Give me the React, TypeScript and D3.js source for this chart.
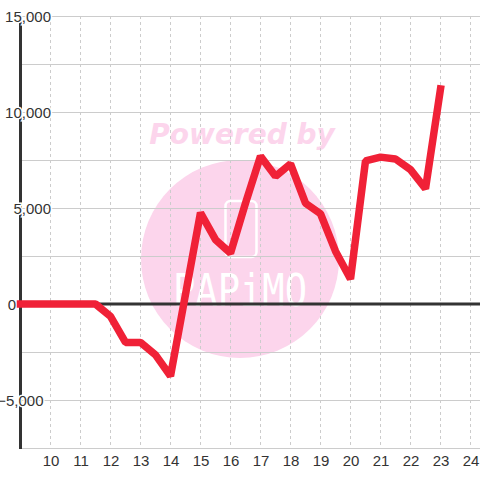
import React from "react";
import * as d3 from "d3";

const hours = [9,9.5,10,10.5,11,11.5,12,12.5,13,13.5,14,14.5,15,15.5,16,16.5,17,17.5,18,18.5,19,19.5,20,20.5,21,21.5,22,22.5,23];
const values = [0,0,0,0,0,0,-650,-2000,-2000,-2650,-3750,500,4750,3350,2650,5250,7700,6650,7300,5250,4700,2750,1300,7450,7650,7550,7000,6000,11200];
const xTicks = [10,11,12,13,14,15,16,17,18,19,20,21,22,23,24];
const yGrid = [-5000,-2500,0,2500,5000,7500,10000,12500,15000];
const yLabels = [-5000,0,5000,10000,15000];
const yLabelEnds = [43.5,16,51,51,51];

const x = d3.scaleLinear().domain([9, 24]).range([20.5, 470.5]);
const y = d3.scaleLinear().domain([-7500, 15000]).range([448, 16]);
const line = d3.line<number>().x((_, i) => x(hours[i])).y(d => y(d)).curve(d3.curveLinear);
const fmt = d3.format(",");
const FONT = "'Liberation Sans', Arial, sans-serif";

export default function App() {
  return (
    <svg width={480} height={480} style={{ position: "fixed", left: 0, top: 0, background: "#fff" }}>
      <circle cx={240} cy={259} r={99} fill="#fcd5ec" />
      <text x={242} y={144} textAnchor="middle" fontFamily="'DejaVu Sans'" fontWeight="bold" fontStyle="italic" fontSize={28} fill="#fcd5ec">Powered by</text>
      <rect x={225.5} y={201} width={31} height={56} rx={5} fill="none" stroke="#fff" strokeWidth={2.5} />
      <text x={240} y={306} textAnchor="middle" fontFamily="'DejaVu Sans Mono'" fontSize={44} textLength={134} lengthAdjust="spacingAndGlyphs" fill="#fff">PAPiMO</text>
      {xTicks.map(t => (
        <line key={t} x1={x(t)} x2={x(t)} y1={16} y2={446} stroke="#ccc" strokeWidth={1} strokeDasharray="3 3" />
      ))}
      {yGrid.map(v => (
        <line key={v} x1={20} x2={480} y1={y(v) + 0.5} y2={y(v) + 0.5} stroke="#ccc" strokeWidth={1} />
      ))}
      <line x1={20} x2={480} y1={448.5} y2={448.5} stroke="#ccc" strokeWidth={1} />
      <line x1={20.5} x2={20.5} y1={16} y2={449} stroke="#333" strokeWidth={3} />
      <line x1={20} x2={480} y1={y(0)} y2={y(0)} stroke="#333" strokeWidth={3} />
      {yLabels.map((v, i) => (
        <text key={v} x={yLabelEnds[i]} y={y(v) + 5.5} textAnchor="end" fontFamily={FONT} fontSize={15} fill="#333" stroke="#fff" strokeWidth={3} paintOrder="stroke">{fmt(v)}</text>
      ))}
      <path d={line(values) ?? ""} fill="none" stroke="#f02137" strokeWidth={7.5} strokeLinejoin="bevel" strokeLinecap="square" />
      {xTicks.map(t => (
        <text key={t} x={x(t) + 0.5} y={466} textAnchor="middle" fontFamily={FONT} fontSize={15} fill="#333">{t}</text>
      ))}
    </svg>
  );
}
